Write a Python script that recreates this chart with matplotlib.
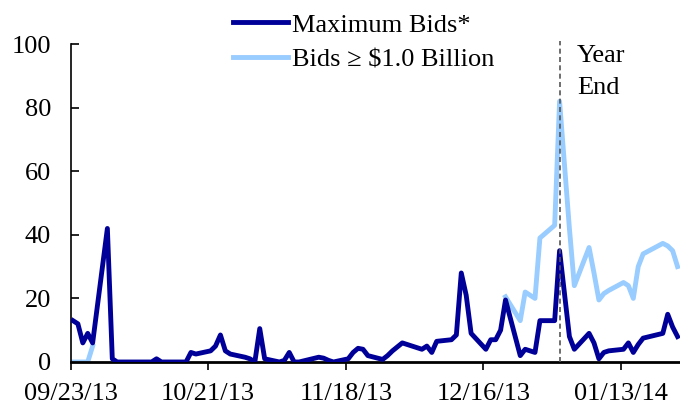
import matplotlib
matplotlib.use("Agg")
import matplotlib.pyplot as plt
import matplotlib.dates as mdates
import numpy as np

plt.rcParams['font.family'] = ['Liberation Serif', 'DejaVu Serif']

# operation days (weekdays, market holidays skipped)
dates = ["2013-09-23", "2013-09-24", "2013-09-25", "2013-09-26", "2013-09-27",
         "2013-09-30", "2013-10-01", "2013-10-02", "2013-10-03", "2013-10-04",
         "2013-10-07", "2013-10-08", "2013-10-09", "2013-10-10", "2013-10-11",
         "2013-10-15", "2013-10-16", "2013-10-17", "2013-10-18",
         "2013-10-21", "2013-10-22", "2013-10-23", "2013-10-24", "2013-10-25",
         "2013-10-28", "2013-10-29", "2013-10-30", "2013-10-31", "2013-11-01",
         "2013-11-04", "2013-11-05", "2013-11-06", "2013-11-07", "2013-11-08",
         "2013-11-12", "2013-11-13", "2013-11-14", "2013-11-15",
         "2013-11-18", "2013-11-19", "2013-11-20", "2013-11-21", "2013-11-22",
         "2013-11-25", "2013-11-26", "2013-11-27", "2013-11-29",
         "2013-12-02", "2013-12-03", "2013-12-04", "2013-12-05", "2013-12-06",
         "2013-12-09", "2013-12-10", "2013-12-11", "2013-12-12", "2013-12-13",
         "2013-12-16", "2013-12-17", "2013-12-18", "2013-12-19", "2013-12-20",
         "2013-12-23", "2013-12-24", "2013-12-26", "2013-12-27",
         "2013-12-30", "2013-12-31", "2014-01-02", "2014-01-03",
         "2014-01-06", "2014-01-07", "2014-01-08", "2014-01-09", "2014-01-10",
         "2014-01-13", "2014-01-14", "2014-01-15", "2014-01-16", "2014-01-17",
         "2014-01-21", "2014-01-22", "2014-01-23", "2014-01-24"]

max_bids = [13, 12, 6, 9, 6,
            42, 1, 0, 0, 0,
            0, 0, 0, 1, 0,
            0, 0, 3, 2.5,
            3.5, 5, 8.5, 3.5, 2.5,
            1.5, 1, 0, 10.5, 1,
            0, 0.5, 3, 0, 0,
            1.5, 1.2, 0.5, 0,
            1, 3, 4.3, 4, 2,
            0.8, 2, 3.5, 6,
            4.5, 4, 5, 3, 6.5,
            7, 8.5, 28, 21, 9,
            4, 7, 7, 10, 19.5,
            2, 4, 3, 13,
            13, 35, 8, 4,
            9, 6, 1, 3, 3.5,
            4, 6, 3, 5.5, 7.5,
            9, 15, 11, 8]

nan = np.nan
bids_1bn = [0, 0, 0, 0, 5,
            nan, nan, nan, nan, nan,
            nan, nan, nan, nan, nan,
            nan, nan, nan, nan,
            nan, nan, nan, nan, nan,
            nan, nan, nan, nan, nan,
            nan, nan, nan, nan, nan,
            nan, nan, nan, nan,
            nan, nan, nan, nan, nan,
            nan, nan, nan, nan,
            nan, nan, nan, nan, nan,
            nan, nan, nan, nan, nan,
            nan, nan, nan, nan, 20.5,
            13, 22, 20, 39,
            43, 82, 42, 24,
            36, 28, 19.5, 21.5, 22.5,
            25, 24, 20, 30, 34,
            37.3, 36.5, 35, 30]

tick_dates = ["2013-09-23", "2013-10-21", "2013-11-18", "2013-12-16", "2014-01-13"]
year_end = "2013-12-31"

# each point sits in the middle of its day
x = np.array(dates, dtype="datetime64[D]") + np.timedelta64(12, "h")

fs = 19
fig = plt.figure(figsize=(6.8, 4.04), dpi=100)
ax = fig.add_axes([0.1037, 0.104, 0.8963, 0.787])

ax.plot(x, bids_1bn, color="#99CCFF", lw=3.5, solid_joinstyle="round",
        label="Bids \u2265 $1.0 Billion", zorder=2)
ax.plot(x, max_bids, color="#000099", lw=3.5, solid_joinstyle="round",
        label="Maximum Bids*", zorder=3)

ye = np.datetime64(year_end) + np.timedelta64(12, "h")
ax.plot([ye, ye], [0, 101], color="#555555", lw=1.2, ls=(0, (3, 2)),
        zorder=4, clip_on=False)
ax.text(ye + np.timedelta64(84, "h"), 94.3, "Year", fontsize=fs,
        va="baseline", ha="left")
ax.text(ye + np.timedelta64(84, "h"), 84.4, "End", fontsize=fs,
        va="baseline", ha="left")

ax.set_ylim(0, 100)
ax.set_yticks([0, 20, 40, 60, 80, 100])
ax.set_xlim(np.datetime64("2013-09-23"), np.datetime64("2014-01-25"))
ax.set_xticks(np.array(tick_dates, dtype="datetime64[D]"))
ax.xaxis.set_major_formatter(mdates.DateFormatter("%m/%d/%y"))

for s in ["top", "right"]:
    ax.spines[s].set_visible(False)
ax.spines["left"].set_linewidth(1.2)
ax.spines["bottom"].set_linewidth(2)
ax.tick_params(axis="y", direction="in", length=6, width=1.2,
               labelsize=fs, pad=14)
ax.tick_params(axis="x", direction="out", length=6, width=1.2,
               labelsize=fs, pad=9)

h, l = ax.get_legend_handles_labels()
leg = fig.legend(h[::-1], l[::-1], loc="upper left",
                 bbox_to_anchor=(0.311, 1.02), frameon=False, fontsize=fs,
                 handlelength=2.1, handletextpad=0.15, labelspacing=0.42,
                 borderpad=0.3)

fig.savefig("out.png", dpi=100)
